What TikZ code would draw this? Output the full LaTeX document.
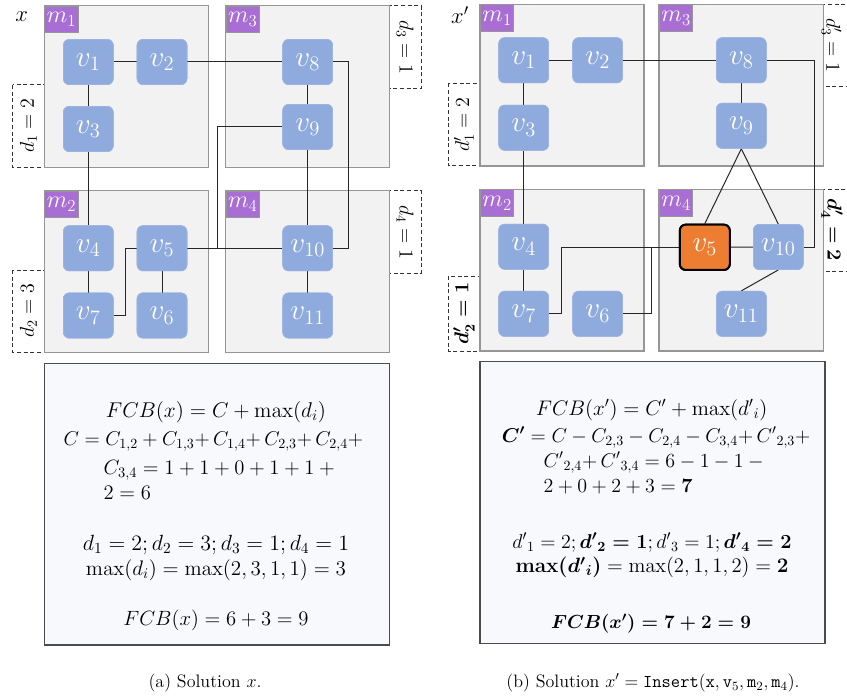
\RequirePackage{fix-cm}
\documentclass[tikz,border=0pt]{standalone}
\usepackage{amsmath}
\definecolor{nodeblue}{RGB}{143,170,220}
\definecolor{nodeorange}{RGB}{237,125,49}
\definecolor{mpurple}{RGB}{168,110,212}
\definecolor{modfill}{RGB}{242,242,242}
\definecolor{modgray}{RGB}{150,150,150}
\definecolor{eqfill}{RGB}{248,249,252}
\newcommand{\fs}[1]{\fontsize{#1}{#1}\selectfont}
\begin{document}
\begin{tikzpicture}[x=0.75pt,y=-0.75pt,
  vnode/.style={rounded corners=4.5pt, fill=nodeblue, draw=nodeblue!85!white, minimum width=37.5pt, minimum height=34pt, inner sep=0pt, text=white, font=\fontsize{22}{26}\selectfont},
  onode/.style={vnode, fill=nodeorange, draw=black, line width=1.5pt},
  modbox/.style={draw=modgray, fill=modfill, line width=1.1pt},
  mlabel/.style={draw=modgray, fill=mpurple, text=white, anchor=north west, minimum width=25pt, minimum height=20pt, inner sep=0pt, line width=0.8pt, font=\fontsize{18}{20}\selectfont},
  dbox/.style={draw=black!80, line width=0.75pt, dash pattern=on 3pt off 2pt},
  dlabel/.style={font=\fontsize{15}{18}\selectfont, inner sep=0pt},
  edge/.style={draw=black!85, line width=0.75pt},
  eqbox/.style={draw=black!70, fill=eqfill, line width=1.1pt},
  eq/.style={font=\fontsize{15}{18}\selectfont, inner sep=0pt},
  captext/.style={font=\fontsize{13.5}{16}\selectfont, inner sep=0pt}
]
\useasboundingbox (0,0) rectangle (847,699);

% ================= LEFT PANEL =================
\draw[dbox] (12.7,85) rectangle (44.3,167.3);
\draw[dbox] (12.7,270) rectangle (44.3,352.3);
\draw[dbox] (389.7,5.7) rectangle (421,88.7);
\draw[dbox] (389.7,190.7) rectangle (421,273.3);
\draw[modbox] (44.3,5.7) rectangle (208.7,167.3);
\draw[modbox] (225.7,5.7) rectangle (389.7,167.3);
\draw[modbox] (44.3,190.7) rectangle (208.7,352.3);
\draw[modbox] (225.7,190.7) rectangle (389.7,352.3);
\node[dlabel, rotate=90] (ld1) at (28.5,126) {$d_1 = 2$};
\node[dlabel, rotate=90] (ld2) at (28.5,311) {$d_2 = 3$};
\node[dlabel, rotate=-90] (ld3) at (405,47) {$d_3 = 1$};
\node[dlabel, rotate=-90] (ld4) at (405,232) {$d_4 = 1$};
\node[font=\fontsize{17}{20}\selectfont, inner sep=0pt] (lx) at (21.7,17) {$x$};
\node[vnode] (a1) at (88.3,62) {$v_1$};
\node[vnode] (a2) at (162,62) {$v_2$};
\node[vnode] (a3) at (88.3,129) {$v_3$};
\node[vnode] (a4) at (88.3,248.3) {$v_4$};
\node[vnode] (a5) at (162,248.3) {$v_5$};
\node[vnode] (a6) at (162,315.5) {$v_6$};
\node[vnode] (a7) at (88.3,315.5) {$v_7$};
\node[vnode] (a8) at (307.7,62) {$v_8$};
\node[vnode] (a9) at (307.7,127) {$v_9$};
\node[vnode] (a10) at (307.7,248.3) {$v_{10}$};
\node[vnode] (a11) at (307.7,315.5) {$v_{11}$};
\coordinate (lb1) at (348.7,0);
\coordinate (lb2) at (217.3,0);
\coordinate (lb3) at (125.3,0);
\draw[edge] (a1) -- (a2);
\draw[edge] (a1) -- (a3);
\draw[edge] (a3) -- (a4);
\draw[edge] (a4) -- (a7);
\draw[edge] (a5) -- (a6);
\draw[edge] (a2) -- (a8);
\draw[edge] (a8) -- (a9);
\draw[edge] (a9) -- (a10);
\draw[edge] (a10) -- (a11);
\draw[edge] (a5) -- (a10);
\draw[edge] (a8.east) -- (a8.east -| lb1) -- (a10.east -| lb1) -- (a10.east);
\draw[edge] (a9.west) -- (a9.west -| lb2) -- (a5.east -| lb2) -- (a5.east);
\draw[edge] (a7.east) -- (a7.east -| lb3) -- (a5.west -| lb3) -- (a5.west);
\node[vnode] at (a1) {$v_1$};
\node[vnode] at (a2) {$v_2$};
\node[vnode] at (a3) {$v_3$};
\node[vnode] at (a4) {$v_4$};
\node[vnode] at (a5) {$v_5$};
\node[vnode] at (a6) {$v_6$};
\node[vnode] at (a7) {$v_7$};
\node[vnode] at (a8) {$v_8$};
\node[vnode] at (a9) {$v_9$};
\node[vnode] at (a10) {$v_{10}$};
\node[vnode] at (a11) {$v_{11}$};
\node[mlabel] (lm1) at (44.3,5.7) {$m_1$};
\node[mlabel] (lm3) at (225.7,5.7) {$m_3$};
\node[mlabel] (lm2) at (44.3,190.7) {$m_2$};
\node[mlabel] (lm4) at (225.7,190.7) {$m_4$};

% ================= RIGHT PANEL =================
\draw[dbox] (448.3,83.3) rectangle (480,166);
\draw[dbox] (448.3,276) rectangle (480,351);
\draw[dbox] (852,4.3) -- (823.3,4.3) -- (823.3,86.7) -- (852,86.7);
\draw[dbox] (852,189.3) -- (823.3,189.3) -- (823.3,271.7) -- (852,271.7);
\draw[modbox] (480,4.3) rectangle (644,166);
\draw[modbox] (659,4.3) rectangle (823.3,166);
\draw[modbox] (480,189.3) rectangle (644,351);
\draw[modbox] (659,189.3) rectangle (823.3,351);
\node[dlabel, rotate=90] (rd1) at (464,124.7) {$d'_1 = 2$};
\node[dlabel, rotate=90] (rd2) at (464,313.5) {$\boldsymbol{d'_2 = 1}$};
\node[dlabel, rotate=-90] (rd3) at (831.5,45) {$d'_3 = 1$};
\node[dlabel, rotate=-90] (rd4) at (832,230) {$\boldsymbol{d'_4 = 2}$};
\node[font=\fontsize{17}{20}\selectfont, inner sep=0pt] (rx) at (460,15) {$x'$};
\node[vnode] (b1) at (523.7,60.3) {$v_1$};
\node[vnode] (b2) at (597.7,60.3) {$v_2$};
\node[vnode] (b3) at (523.7,127.7) {$v_3$};
\node[vnode] (b4) at (523.7,246.7) {$v_4$};
\node[vnode] (b7) at (523.7,313.8) {$v_7$};
\node[vnode] (b6) at (597.7,313.8) {$v_6$};
\node[vnode] (b8) at (741.3,60.3) {$v_8$};
\node[vnode] (b9) at (741.3,125.8) {$v_9$};
\node[onode] (b5) at (704.8,247.3) {$v_5$};
\node[vnode] (b10) at (778.3,247) {$v_{10}$};
\node[vnode] (b11) at (741.3,313.8) {$v_{11}$};
\coordinate (rb1) at (814.3,0);
\coordinate (rb2) at (561.7,0);
\coordinate (rb3) at (651.3,0);
\draw[edge] (b1) -- (b2);
\draw[edge] (b1) -- (b3);
\draw[edge] (b3) -- (b4);
\draw[edge] (b4) -- (b7);
\draw[edge] (b2) -- (b8);
\draw[edge] (b8) -- (b9);
\draw[edge] (b9.south) -- (b5.north);
\draw[edge] (b9.south) -- (b10.north);
\draw[edge] (b5) -- (b10);
\draw[edge] (b10.south) -- (b11.north);
\draw[edge] (b8.east) -- (b8.east -| rb1) -- (b10.east -| rb1) -- (b10.east);
\draw[edge] (b7.east) -- (b7.east -| rb2) -- (b5.west -| rb2) -- (b5.west);
\draw[edge] (b6.east) -- (b6.east -| rb3) -- (b5.west -| rb3);
\node[vnode] at (b1) {$v_1$};
\node[vnode] at (b2) {$v_2$};
\node[vnode] at (b3) {$v_3$};
\node[vnode] at (b4) {$v_4$};
\node[vnode] at (b7) {$v_7$};
\node[vnode] at (b6) {$v_6$};
\node[vnode] at (b8) {$v_8$};
\node[vnode] at (b9) {$v_9$};
\node[onode] at (b5) {$v_5$};
\node[vnode] at (b10) {$v_{10}$};
\node[vnode] at (b11) {$v_{11}$};
\node[mlabel] (rm1) at (480,4.3) {$m_1$};
\node[mlabel] (rm3) at (659,4.3) {$m_3$};
\node[mlabel] (rm2) at (480,189.3) {$m_2$};
\node[mlabel] (rm4) at (659,189.3) {$m_4$};

% ================= EQUATION BOXES =================
\draw[eqbox] (44.3,363.3) rectangle (389.3,645);
\node[eq, font=\fs{16}] (l1) at (216,411.7) {$FCB(x) = C + \max(d_i)$};
\node[eq, anchor=west] (l2) at (63.3,441.7) {$C = C_{1,2} + C_{1,3}{+}\,C_{1,4}{+}\,C_{2,3}{+}\,C_{2,4}{+}$};
\node[eq, anchor=west, font=\fs{15.5}] (l3) at (103.3,470) {$C_{3,4} = 1 + 1 + 0 + 1 + 1 +{}$};
\node[eq, anchor=west, font=\fs{15.5}] (l4) at (103.3,493.3) {$2 = 6$};
\node[eq, font=\fs{16.5}] (l5) at (216,545) {$d_1 = 2; d_2 = 3; d_3 = 1; d_4 = 1$};
\node[eq, font=\fs{15.8}] (l6) at (216,570) {$\max(d_i) = \max(2,3,1,1) = 3$};
\node[eq, font=\fs{15.5}] (l7) at (216,620) {$FCB(x) = 6 + 3 = 9$};

\draw[eqbox] (480,361.7) rectangle (825,643.3);
\node[eq, font=\fs{15.8}] (r1) at (651.7,410) {$FCB(x') = C' + \max({d'}_i)$};
\node[eq, anchor=west] (r2) at (501.7,437.5) {$\boldsymbol{C'} = C - C_{2,3} - C_{2,4} - C_{3,4}{+}\,{C'}_{2,3}{+}$};
\node[eq, anchor=west] (r3) at (543.3,462.5) {${C'}_{2,4}{+}\,{C'}_{3,4} = 6 - 1 - 1 -{}$};
\node[eq, anchor=west] (r4) at (543.3,487) {$2 + 0 + 2 + 3 = \mathbf{7}$};
\node[eq] (r5) at (652,542.5) {${d'}_1 = 2; \boldsymbol{{d'}_2 = 1}; {d'}_3 = 1; \boldsymbol{{d'}_4 = 2}$};
\node[eq, font=\fs{15.5}] (r6) at (652,567.5) {$\mathbf{max}\boldsymbol{({d'}_i)} = \max(2,1,1,2) = \mathbf{2}$};
\node[eq, font=\fs{14.2}] (r7) at (651,623.3) {$\boldsymbol{FCB(x') = 7 + 2 = 9}$};

% ================= CAPTIONS =================
\node[captext] (capa) at (205,683) {(a) Solution $x$.};
\node[captext] (capb) at (653,683) {(b) Solution $x' = \mathtt{Insert}(\mathtt{x}, \mathtt{v}_5, \mathtt{m}_2, \mathtt{m}_4)$.};
\end{tikzpicture}
\end{document}
